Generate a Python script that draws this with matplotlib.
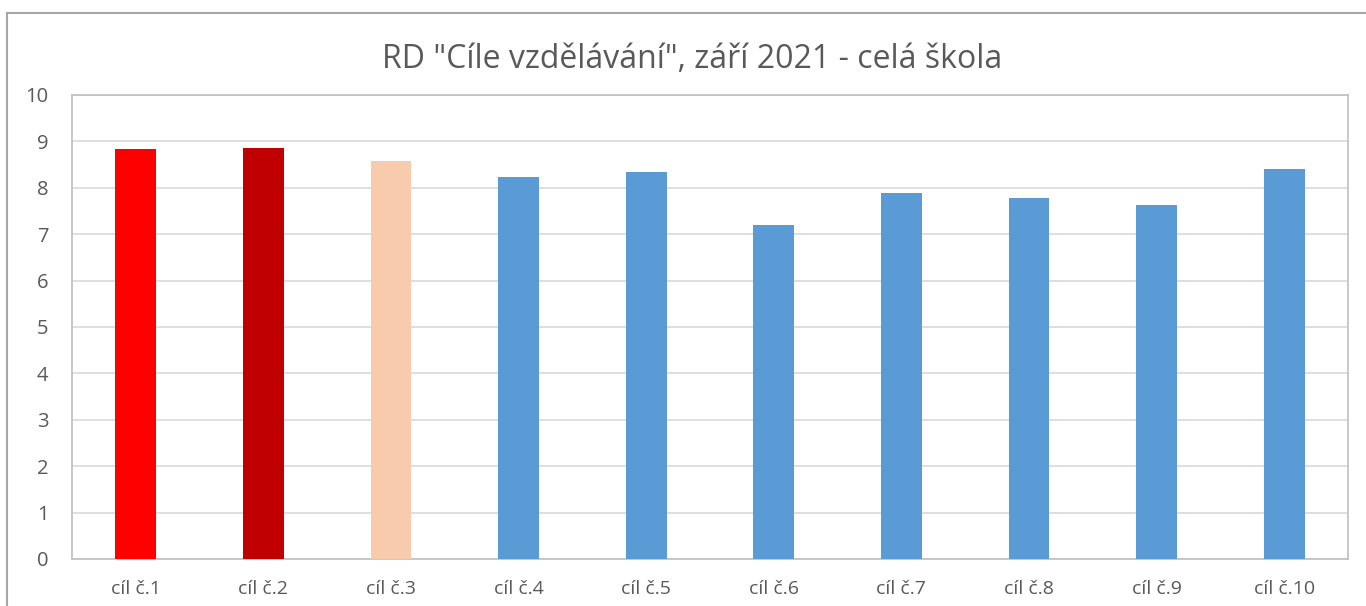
import matplotlib.pyplot as plt
from matplotlib.patches import Rectangle

categories = ["cíl č.1", "cíl č.2", "cíl č.3", "cíl č.4", "cíl č.5",
              "cíl č.6", "cíl č.7", "cíl č.8", "cíl č.9", "cíl č.10"]
values = [8.84, 8.86, 8.58, 8.23, 8.34, 7.20, 7.88, 7.77, 7.63, 8.41]
colors = ["#FF0000", "#C00000", "#F8CBAD"] + ["#5B9BD5"] * 7
title = 'RD "Cíle vzdělávání", září 2021 - celá škola'

plt.rcParams['font.family'] = ['Open Sans', 'DejaVu Sans']
text_col = "#595959"

fig = plt.figure(figsize=(13.66, 6.06), dpi=100)
ax = fig.add_axes([72 / 1366, 47 / 606, 1276 / 1366, 464 / 606])

x = range(len(categories))
ax.bar(x, values, width=0.32, color=colors, zorder=3)

ax.set_xlim(-0.5, len(categories) - 0.5)
ax.set_ylim(0, 10)
ax.set_yticks(range(0, 11))
ax.set_xticks(list(x))
ax.set_xticklabels(categories)
ax.tick_params(axis='both', length=0, colors=text_col, labelsize=14)
ax.tick_params(axis='y', pad=17, labelsize=14.5)
ax.tick_params(axis='x', pad=15)
ax.grid(axis='y', color="#D9D9D9", linewidth=1.2, zorder=0)
for s in ax.spines.values():
    s.set_color("#BFBFBF")
    s.set_linewidth(1.2)

fig.text(0.507, 1 - 60 / 606, title, ha='center', va='center',
         fontsize=23, color=text_col)

# outer chart frame (cut off at the right and bottom like the screenshot)
fig.patches.append(Rectangle((7 / 1366, -0.1), 1.2, 1 - 13 / 606 + 0.1,
                             transform=fig.transFigure, fill=False,
                             edgecolor="#A6A6A6", linewidth=1.5))

fig.savefig("out.png", dpi=100)
